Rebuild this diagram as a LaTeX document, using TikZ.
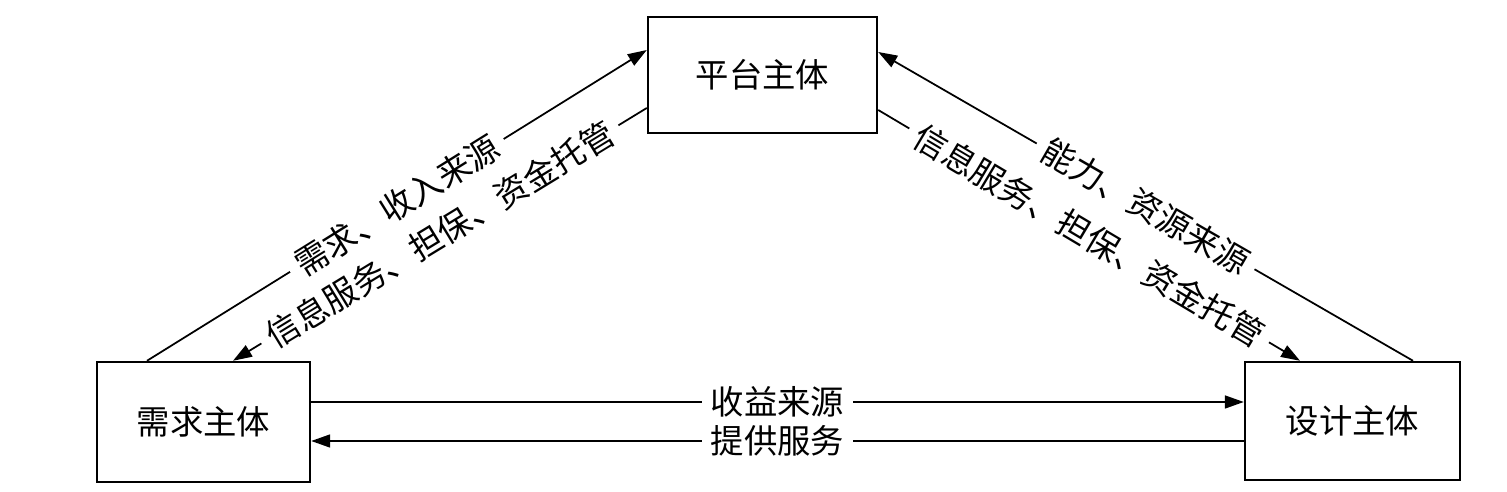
\documentclass[tikz,border=0pt]{standalone}
\usepackage{fontspec}
\newfontfamily\cjk{Noto Sans CJK SC}
\usetikzlibrary{positioning,calc}
\usetikzlibrary{arrows.meta}
\begin{document}
\begin{tikzpicture}[x=0.02cm, y=-0.02cm, main/.style={rectangle, draw, line width=1.4pt, minimum width=4.26cm, minimum height=2.4cm, font=\cjk\fontsize{19}{22}\selectfont}, ar/.style={line width=1pt, -{Triangle[length=0.38cm,width=0.26cm]}}, lbl/.style={sloped, fill=white, inner xsep=5pt, inner ysep=1pt, font=\cjk\fontsize{19}{22}\selectfont}]
      \useasboundingbox (0,0) rectangle (1507,492);
      \node[main] (1) at (203.5,422) {需求主体};
      \node[main, minimum width=4.58cm, minimum height=2.32cm] (2) at (762.5,75) {平台主体};
      \node[main, minimum width=4.3cm, minimum height=2.36cm] (3) at (1352.5,421) {设计主体};

      \draw[ar] ($(1.north)+(-56.5,0)$) -- ($(2.west)+(0,-25)$) node[lbl, midway]{需求、收入来源};
      \draw[ar] ($(2.west)+(0,33)$) -- ($(1.north)+(29.5,0)$) node[lbl, midway]{信息服务、担保、资金托管};
      \draw[ar] ($(3.north)+(60.5,0)$) -- ($(2.east)+(0,-23)$) node[lbl, midway]{能力、资源来源};
      \draw[ar] ($(2.east)+(0,35)$) -- ($(3.north)+(-52.5,0)$) node[lbl, midway]{信息服务、担保、资金托管};
      \draw[ar] ($(1.east)+(0,-20)$) -- ($(3.west)+(0,-19)$) node[lbl, midway]{收益来源};
      \draw[ar] ($(3.west)+(0,20)$) -- ($(1.east)+(0,19)$) node[lbl, midway]{提供服务};
    \end{tikzpicture}
\end{document}
